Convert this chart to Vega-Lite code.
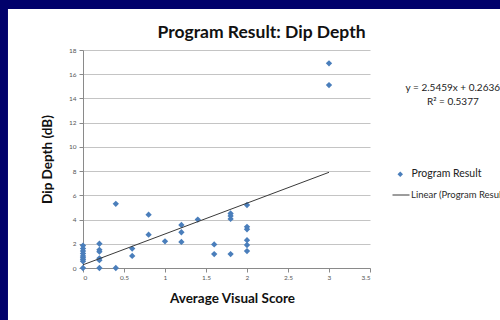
{
  "$schema": "https://vega.github.io/schema/vega-lite/v6.json",
  "width": 287,
  "height": 218,
  "autosize": {"type": "none"},
  "padding": {"left": 83, "top": 50, "right": 130, "bottom": 52},
  "background": "white",
  "title": {
    "text": "Program Result: Dip Depth",
    "font": "Lato",
    "fontSize": 17.5,
    "fontWeight": "bold",
    "color": "#111111",
    "anchor": "middle",
    "baseline": "alphabetic",
    "offset": 0,
    "dx": 35,
    "dy": 56
  },
  "config": {
    "view": {"stroke": null},
    "font": "Lato",
    "axisX": {
      "labelOverlap": false,
      "grid": false,
      "domainColor": "#8a8a8a",
      "tickColor": "#8a8a8a",
      "tickSize": 4,
      "labelFontSize": 6.5,
      "labelColor": "#555555",
      "labelPadding": 2,
      "titleFont": "Lato",
      "titleFontSize": 13.5,
      "titleFontWeight": "bold",
      "titleColor": "#111111",
      "titlePadding": 11,
      "titleX": 149
    },
    "axisY": {
      "labelOverlap": false,
      "grid": true,
      "gridColor": "#c4c4c4",
      "gridWidth": 1,
      "domainColor": "#8a8a8a",
      "tickColor": "#8a8a8a",
      "tickSize": 4,
      "labelFontSize": 6.5,
      "labelColor": "#555555",
      "labelPadding": 3,
      "titleFont": "Lato",
      "titleFontSize": 13.5,
      "titleFontWeight": "bold",
      "titleColor": "#111111",
      "titlePadding": 14
    }
  },
  "resolve": {"scale": {"color": "independent"}, "legend": {"color": "independent"}},
  "datasets": {
    "scores": [
      {"score": 0, "depth": 1.85, "series": "Program Result"},
      {"score": 0, "depth": 1.6, "series": "Program Result"},
      {"score": 0, "depth": 1.4, "series": "Program Result"},
      {"score": 0, "depth": 1.2, "series": "Program Result"},
      {"score": 0, "depth": 1.0, "series": "Program Result"},
      {"score": 0, "depth": 0.85, "series": "Program Result"},
      {"score": 0, "depth": 0.7, "series": "Program Result"},
      {"score": 0, "depth": 0.55, "series": "Program Result"},
      {"score": 0, "depth": 0, "series": "Program Result"},
      {"score": 0.2, "depth": 2.0, "series": "Program Result"},
      {"score": 0.2, "depth": 1.5, "series": "Program Result"},
      {"score": 0.2, "depth": 1.35, "series": "Program Result"},
      {"score": 0.2, "depth": 0.8, "series": "Program Result"},
      {"score": 0.2, "depth": 0.65, "series": "Program Result"},
      {"score": 0.2, "depth": 0, "series": "Program Result"},
      {"score": 0.4, "depth": 5.3, "series": "Program Result"},
      {"score": 0.4, "depth": 0, "series": "Program Result"},
      {"score": 0.6, "depth": 1.6, "series": "Program Result"},
      {"score": 0.6, "depth": 1.0, "series": "Program Result"},
      {"score": 0.8, "depth": 4.4, "series": "Program Result"},
      {"score": 0.8, "depth": 2.75, "series": "Program Result"},
      {"score": 1.0, "depth": 2.2, "series": "Program Result"},
      {"score": 1.2, "depth": 3.55, "series": "Program Result"},
      {"score": 1.2, "depth": 2.95, "series": "Program Result"},
      {"score": 1.2, "depth": 2.15, "series": "Program Result"},
      {"score": 1.4, "depth": 4.0, "series": "Program Result"},
      {"score": 1.6, "depth": 1.95, "series": "Program Result"},
      {"score": 1.6, "depth": 1.15, "series": "Program Result"},
      {"score": 1.8, "depth": 4.5, "series": "Program Result"},
      {"score": 1.8, "depth": 4.3, "series": "Program Result"},
      {"score": 1.8, "depth": 4.05, "series": "Program Result"},
      {"score": 1.8, "depth": 1.15, "series": "Program Result"},
      {"score": 2.0, "depth": 5.2, "series": "Program Result"},
      {"score": 2.0, "depth": 3.4, "series": "Program Result"},
      {"score": 2.0, "depth": 3.2, "series": "Program Result"},
      {"score": 2.0, "depth": 2.3, "series": "Program Result"},
      {"score": 2.0, "depth": 1.9, "series": "Program Result"},
      {"score": 2.0, "depth": 1.4, "series": "Program Result"},
      {"score": 3.0, "depth": 16.9, "series": "Program Result"},
      {"score": 3.0, "depth": 15.1, "series": "Program Result"}
    ],
    "trend": [
      {"score": 0, "depth": 0.2636, "series": "Linear (Program Result)"},
      {"score": 3, "depth": 7.9013, "series": "Linear (Program Result)"}
    ]
  },
  "layer": [
    {
      "data": {"name": "scores"},
      "mark": {"type": "point", "shape": "diamond", "filled": true, "size": 40, "opacity": 1},
      "encoding": {
        "x": {
          "field": "score",
          "type": "quantitative",
          "scale": {"domain": [0, 3.5], "nice": false, "zero": false},
          "axis": {"title": "Average Visual Score", "values": [0, 0.5, 1, 1.5, 2, 2.5, 3, 3.5], "format": "~g"}
        },
        "y": {
          "field": "depth",
          "type": "quantitative",
          "scale": {"domain": [0, 18], "nice": false},
          "axis": {"title": "Dip Depth (dB)", "values": [0, 2, 4, 6, 8, 10, 12, 14, 16, 18], "format": "~g"}
        },
        "color": {
          "field": "series",
          "type": "nominal",
          "scale": {"domain": ["Program Result"], "range": ["#4A7EBB"]},
          "legend": {
            "title": null,
            "orient": "none",
            "legendX": 312,
            "legendY": 119,
            "symbolType": "diamond",
            "symbolSize": 30,
            "symbolOpacity": 1,
            "labelOffset": 6,
            "labelFont": "Lato",
            "labelFontSize": 10.5,
            "labelColor": "#222222",
            "labelLimit": 200
          }
        }
      }
    },
    {
      "data": {"name": "trend"},
      "mark": {"type": "line", "strokeWidth": 1},
      "encoding": {
        "x": {
          "field": "score",
          "type": "quantitative",
          "axis": {"title": "Average Visual Score", "values": [0, 0.5, 1, 1.5, 2, 2.5, 3, 3.5], "format": "~g"}
        },
        "y": {
          "field": "depth",
          "type": "quantitative",
          "axis": {"title": "Dip Depth (dB)", "values": [0, 2, 4, 6, 8, 10, 12, 14, 16, 18], "format": "~g"}
        },
        "color": {
          "field": "series",
          "type": "nominal",
          "scale": {"domain": ["Linear (Program Result)"], "range": ["#3a3a3a"]},
          "legend": {
            "title": null,
            "orient": "none",
            "legendX": 309,
            "legendY": 136,
            "symbolType": "stroke",
            "symbolSize": 289,
            "symbolStrokeWidth": 1,
            "labelOffset": 1,
            "labelFont": "Lato",
            "labelFontSize": 9.5,
            "labelColor": "#2b2b2b",
            "labelLimit": 200
          }
        }
      }
    },
    {
      "data": {"values": [{}]},
      "mark": {
        "type": "text",
        "align": "center",
        "baseline": "middle",
        "font": "Lato",
        "fontSize": 10,
        "lineHeight": 14,
        "color": "#222222"
      },
      "encoding": {
        "x": {
          "datum": 4.51,
          "type": "quantitative",
          "axis": {"title": "Average Visual Score", "values": [0, 0.5, 1, 1.5, 2, 2.5, 3, 3.5], "format": "~g"}
        },
        "y": {
          "datum": 14.87,
          "type": "quantitative",
          "axis": {"title": "Dip Depth (dB)", "values": [0, 2, 4, 6, 8, 10, 12, 14, 16, 18], "format": "~g"}
        },
        "text": {"value": ["y = 2.5459x + 0.2636", "R² = 0.5377"]}
      }
    },
    {
      "data": {"values": [{}]},
      "mark": {"type": "rect", "color": "#01016b"},
      "encoding": {
        "x": {
          "datum": -1.3,
          "type": "quantitative",
          "axis": {"title": "Average Visual Score", "values": [0, 0.5, 1, 1.5, 2, 2.5, 3, 3.5], "format": "~g"}
        },
        "x2": {"datum": -0.915},
        "y": {
          "datum": -6,
          "type": "quantitative",
          "axis": {"title": "Dip Depth (dB)", "values": [0, 2, 4, 6, 8, 10, 12, 14, 16, 18], "format": "~g"}
        },
        "y2": {"datum": 22.13}
      }
    },
    {
      "data": {"values": [{}]},
      "mark": {"type": "rect", "color": "#01016b"},
      "encoding": {
        "x": {
          "datum": -1.3,
          "type": "quantitative",
          "axis": {"title": "Average Visual Score", "values": [0, 0.5, 1, 1.5, 2, 2.5, 3, 3.5], "format": "~g"}
        },
        "x2": {"datum": 6.5},
        "y": {
          "datum": 21.39,
          "type": "quantitative",
          "axis": {"title": "Dip Depth (dB)", "values": [0, 2, 4, 6, 8, 10, 12, 14, 16, 18], "format": "~g"}
        },
        "y2": {"datum": 22.13}
      }
    }
  ]
}
